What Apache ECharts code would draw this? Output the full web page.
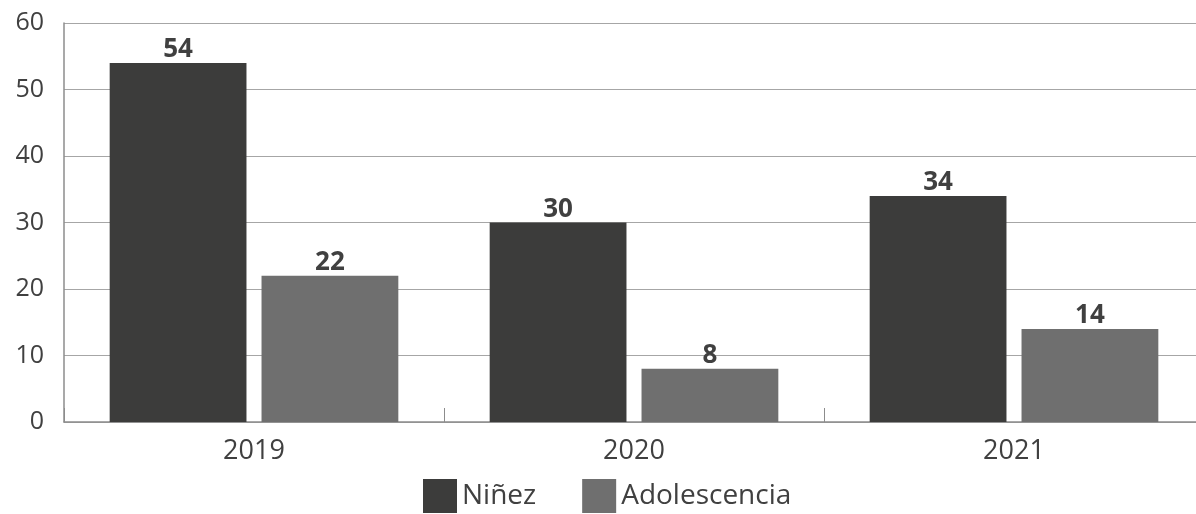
<!DOCTYPE html>
<html>
<head>
<meta charset="utf-8">
<script src="https://cdn.jsdelivr.net/npm/echarts@6/dist/echarts.min.js"></script>
<style>
  html, body { margin: 0; padding: 0; background: #fff; overflow: hidden; }
  #chart { width: 1204px; height: 514px; }
</style>
</head>
<body>
<div id="chart"></div>
<script>
// Casos por año y grupo de edad
const years = ['2019', '2020', '2021'];
const ninez = [54, 30, 34];
const adolescencia = [22, 8, 14];
const yTicks = { min: 0, max: 60, step: 10 };

const FONT = '"Open Sans", "Noto Sans", sans-serif';
const TEXT = '#404040';

const chart = echarts.init(document.getElementById('chart'), null, { renderer: 'canvas' });

const valueLabel = {
  show: true,
  position: 'top',
  distance: 0,
  color: TEXT,
  fontFamily: FONT,
  fontWeight: 'bold',
  fontSize: 26
};

chart.setOption({
  animation: false,
  grid: { left: 64, right: 0, top: 23, bottom: 92, containLabel: false },
  legend: {
    left: 418,
    bottom: -4,
    itemWidth: 34,
    itemHeight: 34,
    itemGap: 46,
    icon: 'rect',
    textStyle: { color: TEXT, fontFamily: FONT, fontSize: 28 },
    data: ['Niñez', 'Adolescencia']
  },
  xAxis: {
    type: 'category',
    data: years,
    axisLine: { show: true, lineStyle: { color: '#8c8c8c', width: 1.5 } },
    axisTick: { show: true, inside: true, length: 14, lineStyle: { color: '#8c8c8c', width: 1 } },
    axisLabel: { color: TEXT, fontFamily: FONT, fontSize: 27, margin: 16 },
    splitLine: { show: false }
  },
  yAxis: {
    type: 'value',
    min: yTicks.min,
    max: yTicks.max,
    interval: yTicks.step,
    axisLine: { show: true, lineStyle: { color: '#8c8c8c', width: 1.5 } },
    axisTick: { show: false },
    axisLabel: { color: TEXT, fontFamily: FONT, fontSize: 25, margin: 20 },
    splitLine: { show: true, lineStyle: { color: '#a6a6a6', width: 1 } }
  },
  series: [
    {
      name: 'Niñez',
      type: 'bar',
      data: ninez,
      barWidth: '36%',
      barGap: '11%',
      itemStyle: { color: '#3c3c3b' },
      label: valueLabel
    },
    {
      name: 'Adolescencia',
      type: 'bar',
      data: adolescencia,
      barWidth: '36%',
      itemStyle: { color: '#6f6f6f' },
      label: valueLabel
    }
  ]
});
</script>
</body>
</html>
